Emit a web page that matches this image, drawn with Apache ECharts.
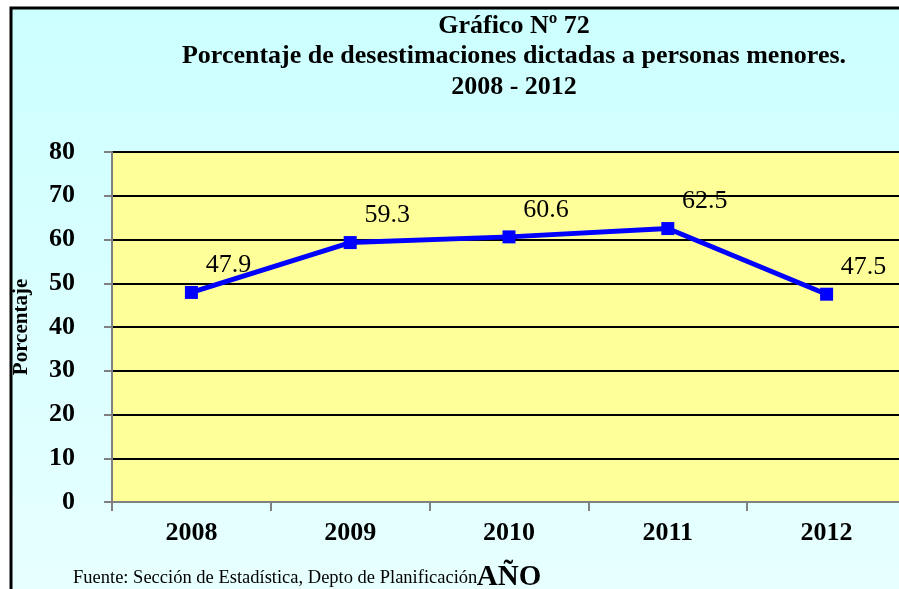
<!DOCTYPE html>
<html>
<head>
<meta charset="utf-8">
<title>Gráfico Nº 72</title>
<script src="https://cdn.jsdelivr.net/npm/echarts@6/dist/echarts.min.js"></script>
<style>
  html, body { margin: 0; padding: 0; background: #fff; }
  #chart72 { width: 899px; height: 589px; }
</style>
</head>
<body>
<div id="chart72"></div>
<script>
// data
const years = ["2008", "2009", "2010", "2011", "2012"];
const porcentaje = [47.9, 59.3, 60.6, 62.5, 47.5];
const yTicks = [0, 10, 20, 30, 40, 50, 60, 70, 80];

const serif = "'Liberation Serif', 'DejaVu Serif', serif";

const myChart = echarts.init(document.getElementById("chart72"));

myChart.setOption({
  animation: false,
  title: {
    text: "Gráfico Nº 72\nPorcentaje de desestimaciones dictadas a personas menores.\n2008 - 2012",
    left: 509,
    top: 6,
    textAlign: "center",
    textStyle: {
      fontFamily: serif,
      fontWeight: "bold",
      fontSize: 26,
      lineHeight: 30.5,
      color: "#000",
    },
  },
  graphic: [
    {
      // chart frame with light cyan fill
      type: "rect",
      z: -10,
      silent: true,
      shape: { x: 11, y: 8, width: 900, height: 600 },
      style: {
        fill: new echarts.graphic.LinearGradient(0, 0, 0, 1, [
          { offset: 0, color: "#ccffff" },
          { offset: 1, color: "#e8ffff" },
        ]),
        stroke: "#000",
        lineWidth: 3,
      },
    },
    {
      type: "text",
      left: 73,
      top: 569,
      style: {
        text: "Fuente: Sección de Estadística, Depto de Planificación",
        fontFamily: serif,
        fontSize: 18.5,
        fill: "#000",
      },
    },
  ],
  grid: {
    left: 112,
    right: -7,
    top: 152,
    bottom: 87,
    outerBoundsMode: "none",
    containLabel: false,
    show: true,
    backgroundColor: "#ffff99",
    borderColor: "#808080",
    borderWidth: 2,
  },
  xAxis: {
    type: "category",
    data: years,
    boundaryGap: true,
    name: "AÑO",
    nameLocation: "middle",
    nameGap: 61,
    nameTextStyle: {
      fontFamily: serif,
      fontWeight: "bold",
      fontSize: 29,
      color: "#000",
    },
    axisLine: { lineStyle: { color: "#808080", width: 2 } },
    axisTick: { show: true, length: 9, lineStyle: { color: "#808080", width: 2 } },
    axisLabel: {
      margin: 18,
      fontFamily: serif,
      fontWeight: "bold",
      fontSize: 26,
      color: "#000",
    },
  },
  yAxis: {
    type: "value",
    min: yTicks[0],
    max: yTicks[yTicks.length - 1],
    interval: 10,
    name: "Porcentaje",
    nameLocation: "middle",
    nameRotate: 90,
    nameGap: 80,
    nameTextStyle: {
      fontFamily: serif,
      fontWeight: "bold",
      fontSize: 21,
      color: "#000",
    },
    axisLine: { show: true, lineStyle: { color: "#808080", width: 2 } },
    axisTick: { show: true, length: 8, lineStyle: { color: "#808080", width: 2 } },
    axisLabel: {
      margin: 37,
      fontFamily: serif,
      fontWeight: "bold",
      fontSize: 26,
      color: "#000",
    },
    splitLine: { show: true, lineStyle: { color: "#000", width: 2 } },
  },
  series: [
    {
      name: "Porcentaje",
      type: "line",
      data: porcentaje,
      symbol: "rect",
      symbolSize: 13,
      lineStyle: { color: "#0000ff", width: 5 },
      itemStyle: { color: "#0000ff" },
      z: 5,
      label: {
        show: true,
        position: "inside",
        offset: [37, -27],
        fontFamily: serif,
        fontSize: 26,
        color: "#000",
      },
    },
  ],
});
</script>
</body>
</html>
